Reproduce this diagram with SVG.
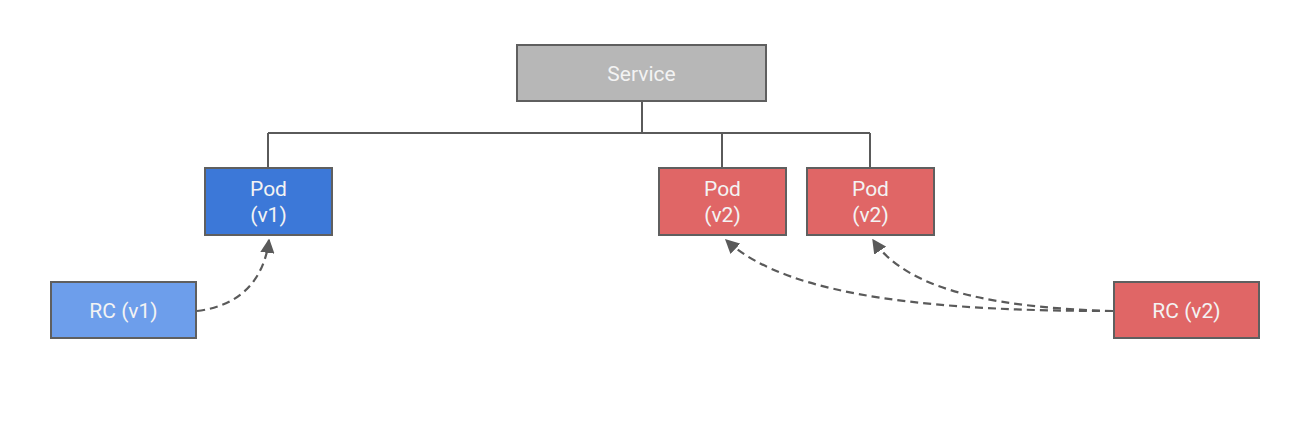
<svg xmlns="http://www.w3.org/2000/svg" width="1308" height="422" viewBox="0 0 1308 422">
<style>
.box{stroke:#5f5f5f;stroke-width:2}
.t{font-family:"Roboto","Liberation Sans",sans-serif;font-size:21px;fill:#f3f3f3;text-anchor:middle}
.line{stroke:#5a5a5a;stroke-width:2;fill:none}
.dash{stroke:#5a5a5a;stroke-width:2.2;fill:none;stroke-dasharray:8 5}
</style>
<defs>
<marker id="ah" viewBox="0 0 10 10" refX="9" refY="5" markerWidth="6.5" markerHeight="6.5" markerUnits="strokeWidth" orient="auto">
<path d="M0,0 L10,5 L0,10 z" fill="#5a5a5a"/>
</marker>
</defs>
<rect width="1308" height="422" fill="#ffffff"/>
<g id="connectors">
<path class="line" d="M642,101 V133 M268,133 H870 M268,133 V168 M722,133 V168 M870,133 V168"/>
<path class="dash" d="M197,311 C240,306 264,280 269,240" marker-end="url(#ah)"/>
<path class="dash" d="M1113,311 C950,311 790,300 726,240" marker-end="url(#ah)"/>
<path class="dash" d="M1113,311 C1010,308 910,295 873,240" marker-end="url(#ah)"/>
</g>
<g id="service">
<rect class="box" x="517" y="45" width="249" height="56" fill="#b7b7b7"/>
<text class="t" x="641.5" y="80.5">Service</text>
</g>
<g id="pod-v1">
<rect class="box" x="205" y="168" width="127" height="67" fill="#3c78d8"/>
<text class="t" x="268.5" y="195.5">Pod</text>
<text class="t" x="268.5" y="222">(v1)</text>
</g>
<g id="pod-v2-a">
<rect class="box" x="659" y="168" width="127" height="67" fill="#e06666"/>
<text class="t" x="722.5" y="195.5">Pod</text>
<text class="t" x="722.5" y="222">(v2)</text>
</g>
<g id="pod-v2-b">
<rect class="box" x="807" y="168" width="127" height="67" fill="#e06666"/>
<text class="t" x="870.5" y="195.5">Pod</text>
<text class="t" x="870.5" y="222">(v2)</text>
</g>
<g id="rc-v1">
<rect class="box" x="51" y="282" width="145" height="56" fill="#6d9eeb"/>
<text class="t" x="123.5" y="317.5">RC (v1)</text>
</g>
<g id="rc-v2">
<rect class="box" x="1114" y="282" width="145" height="56" fill="#e06666"/>
<text class="t" x="1186.5" y="317.5">RC (v2)</text>
</g>
</svg>
